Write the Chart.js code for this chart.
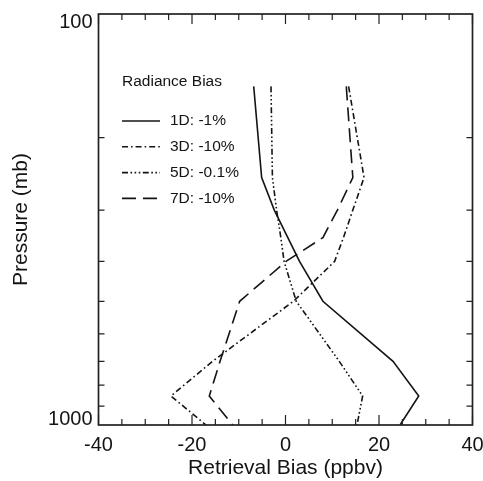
<!DOCTYPE html>
<html>
<head>
<meta charset="utf-8">
<script src="https://cdn.jsdelivr.net/npm/chart.js@4.4.1/dist/chart.umd.min.js"></script>
<style>
    html, body { margin: 0; padding: 0; background: #fff; }
    #wrap { width: 483px; height: 481px; }
</style>
</head>
<body>
<div id="wrap"><canvas id="biasChart"></canvas></div>
<script>
// values
const pressure = [150, 250, 300, 350, 400, 500, 700, 850, 1000];
const bias1D = [-6.8, -5.1, -2.4, 0.5, 3.0, 8.0, 23.0, 28.5, 24.5];
const bias3D = [13.5, 16.8, 14.4, 12.4, 10.5, 1.7, -15.6, -24.5, -17.0];
const bias5D = [-3.1, -2.8, -1.9, -1.0, -0.3, 2.3, 11.5, 16.5, 15.3];
const bias7D = [13.0, 14.4, 11.1, 8.0, 0.1, -9.8, -14.0, -16.3, -11.3];
const seriesLabels = ["1D: -1%", "3D: -10%", "5D: -0.1%", "7D: -10%"];
const legendTitle = "Radiance Bias";
const yLabelTicks = [100, 1000];
const yMinorTicks = [200, 300, 400, 500, 600, 700, 800, 900];
const xMinorStep = 5;
const xMajorStep = 20;

const ink = "#141414";
const fontFamily = "'Liberation Sans', Arial, Helvetica, sans-serif";
Chart.defaults.font.family = fontFamily;
Chart.defaults.color = ink;

const dashes = [
    [],
    [6, 3, 1.6, 3],
    [6, 2.5, 1.6, 2.5, 1.6, 2.5, 1.6, 2.5],
    [14, 7],
];
const allBias = [bias1D, bias3D, bias5D, bias7D];

const datasets = allBias.map((b, k) => ({
    label: seriesLabels[k],
    data: b.map((v, i) => ({ x: v, y: pressure[i] })),
    borderColor: ink,
    borderWidth: 1.6,
    borderDash: dashes[k],
    pointRadius: 0,
    showLine: true,
    fill: false,
    tension: 0,
}));

// IDL-style frame, inward ticks, y labels and the legend
const framePlugin = {
    id: "frame",
    afterDraw(chart) {
        const { ctx, chartArea: a, scales } = chart;
        const xs = scales.x;
        const ys = scales.y;
        ctx.save();
        ctx.strokeStyle = "#222";
        ctx.lineWidth = 1.7;
        ctx.setLineDash([]);
        ctx.strokeRect(a.left, a.top, a.right - a.left, a.bottom - a.top);

        ctx.lineWidth = 1.2;
        ctx.beginPath();
        for (let v = xs.min; v <= xs.max; v += xMinorStep) {
            const px = xs.getPixelForValue(v);
            const len = v % xMajorStep === 0 ? 10 : 6;
            ctx.moveTo(px, a.bottom);
            ctx.lineTo(px, a.bottom - len);
            ctx.moveTo(px, a.top);
            ctx.lineTo(px, a.top + len);
        }
        yMinorTicks.forEach((p) => {
            const py = ys.getPixelForValue(p);
            ctx.moveTo(a.left, py);
            ctx.lineTo(a.left + 6, py);
            ctx.moveTo(a.right, py);
            ctx.lineTo(a.right - 6, py);
        });
        ctx.stroke();

        // y labels: baseline on the frame like the original
        ctx.fillStyle = ink;
        ctx.font = "20px " + fontFamily;
        ctx.textAlign = "right";
        ctx.textBaseline = "alphabetic";
        yLabelTicks.forEach((p) => {
            const py = ys.getPixelForValue(p);
            const yy = p === ys.min ? py + 13.5 : py;
            ctx.fillText(String(p), a.left - 6, yy);
        });

        // legend
        ctx.textAlign = "left";
        ctx.textBaseline = "middle";
        ctx.font = "15.5px " + fontFamily;
        ctx.fillText(legendTitle, 122, 82);
        chart.data.datasets.forEach((ds, k) => {
            const yy = 121 + k * 25.8;
            ctx.strokeStyle = ink;
            ctx.lineWidth = 1.6;
            ctx.setLineDash(ds.borderDash);
            ctx.beginPath();
            ctx.moveTo(122, yy);
            ctx.lineTo(160, yy);
            ctx.stroke();
            ctx.fillText(ds.label, 170, yy);
        });
        ctx.restore();
    },
};

new Chart(document.getElementById("biasChart"), {
    type: "scatter",
    data: { datasets },
    options: {
        responsive: true,
        maintainAspectRatio: false,
        animation: false,
        layout: { padding: { left: 0, right: 10.5, top: 14, bottom: 0 } },
        plugins: {
            legend: { display: false },
            tooltip: { enabled: false },
        },
        scales: {
            x: {
                type: "linear",
                position: "bottom",
                min: -40,
                max: 40,
                grid: { display: false, drawTicks: false },
                border: { display: false },
                ticks: {
                    stepSize: xMajorStep,
                    padding: 8,
                    color: ink,
                    font: { size: 20 },
                    maxRotation: 0,
                },
                title: {
                    display: true,
                    text: "Retrieval Bias (ppbv)",
                    color: ink,
                    font: { size: 21 },
                    padding: { top: 0, bottom: 0 },
                },
                afterFit: (s) => {
                    s.height = 56;
                    s.paddingLeft = 0;
                    s.paddingRight = 0;
                },
            },
            y: {
                type: "logarithmic",
                reverse: true,
                min: 100,
                max: 1000,
                grid: { display: false, drawTicks: false },
                border: { display: false },
                ticks: { display: false },
                title: {
                    display: true,
                    text: "Pressure (mb)",
                    color: ink,
                    font: { size: 21 },
                    padding: { top: 9, bottom: 0 },
                },
                afterFit: (s) => {
                    s.width = 98.5;
                },
            },
        },
    },
    plugins: [framePlugin],
});
</script>
</body>
</html>
